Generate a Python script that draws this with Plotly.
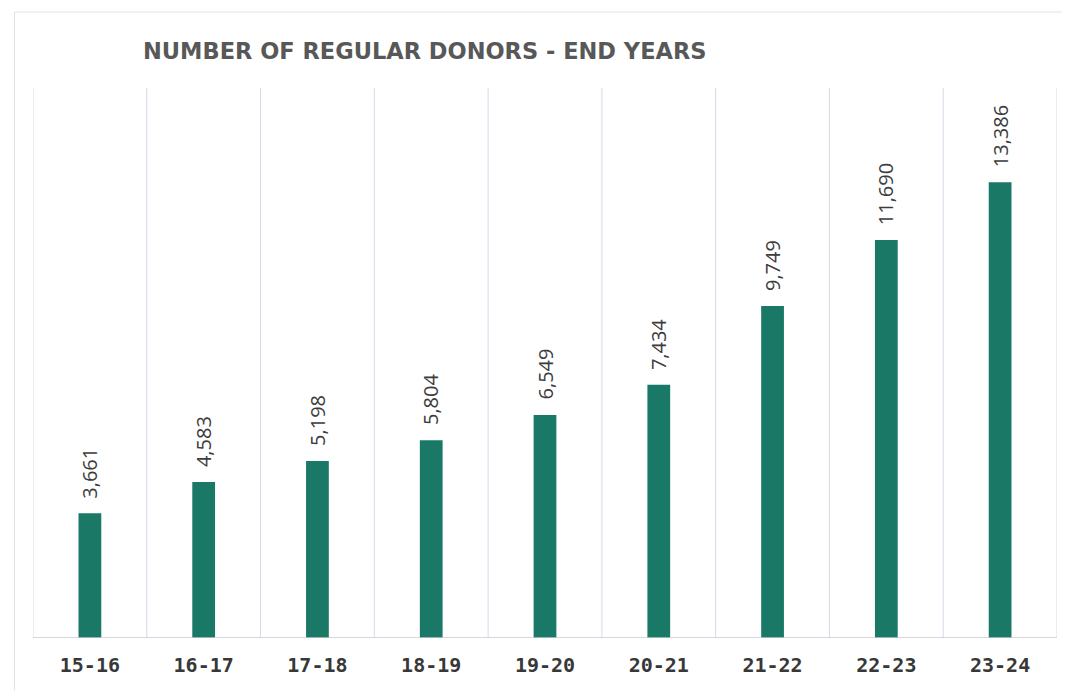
import plotly.graph_objects as go

categories = ["15-16", "16-17", "17-18", "18-19", "19-20", "20-21", "21-22", "22-23", "23-24"]
donors = [3661, 4583, 5198, 5804, 6549, 7434, 9749, 11690, 13386]
title_text = "NUMBER OF REGULAR DONORS - END YEARS"

fig = go.Figure()
fig.add_trace(go.Bar(
    x=categories, y=donors,
    marker=dict(color="#1a7866", line=dict(width=0)),
    width=0.2,
    hoverinfo="x+y",
))

annotations = []
for c, v in zip(categories, donors):
    annotations.append(dict(
        x=c, y=v, xref="x", yref="y", text=f"{v:,}", showarrow=False,
        textangle=-90, xanchor="center", yanchor="bottom", yshift=13,
        font=dict(family="Open Sans, Noto Sans, sans-serif", size=20, color="#3c3c3c"),
    ))

shapes = []
for i in range(len(categories) + 1):
    shapes.append(dict(type="line", xref="x", yref="paper", x0=i - 0.5, x1=i - 0.5, y0=0, y1=1,
                       line=dict(color="#d3dbe8", width=1)))
shapes.append(dict(type="line", xref="paper", yref="y", x0=0, x1=1, y0=0, y1=0,
                   line=dict(color="#c6cad0", width=1.5)))
shapes.append(dict(type="rect", xref="paper", yref="paper", x0=-0.018, x1=1.2, y0=-0.3, y1=1.138,
                   line=dict(color="#dfe2e7", width=1)))

fig.update_layout(
    width=1070, height=690,
    margin=dict(l=25, r=21, t=80, b=60),
    paper_bgcolor="white", plot_bgcolor="white",
    showlegend=False,
    shapes=shapes,
    annotations=annotations,
    title=dict(text=title_text, x=135/1070, xanchor="left", y=1 - 43/690, yanchor="middle",
               font=dict(family="DejaVu Sans, sans-serif", size=22.5, color="#585858", weight="bold")),
    xaxis=dict(type="category", range=[-0.5, len(categories) - 0.5], showgrid=False, showline=False,
               ticks="", ticklabelstandoff=13,
               tickfont=dict(family="DejaVu Sans Mono, monospace", size=20, color="#383838", weight="bold")),
    yaxis=dict(range=[0, 16150], showgrid=False, showticklabels=False, zeroline=False, showline=False),
)

fig.write_html("out.html")
